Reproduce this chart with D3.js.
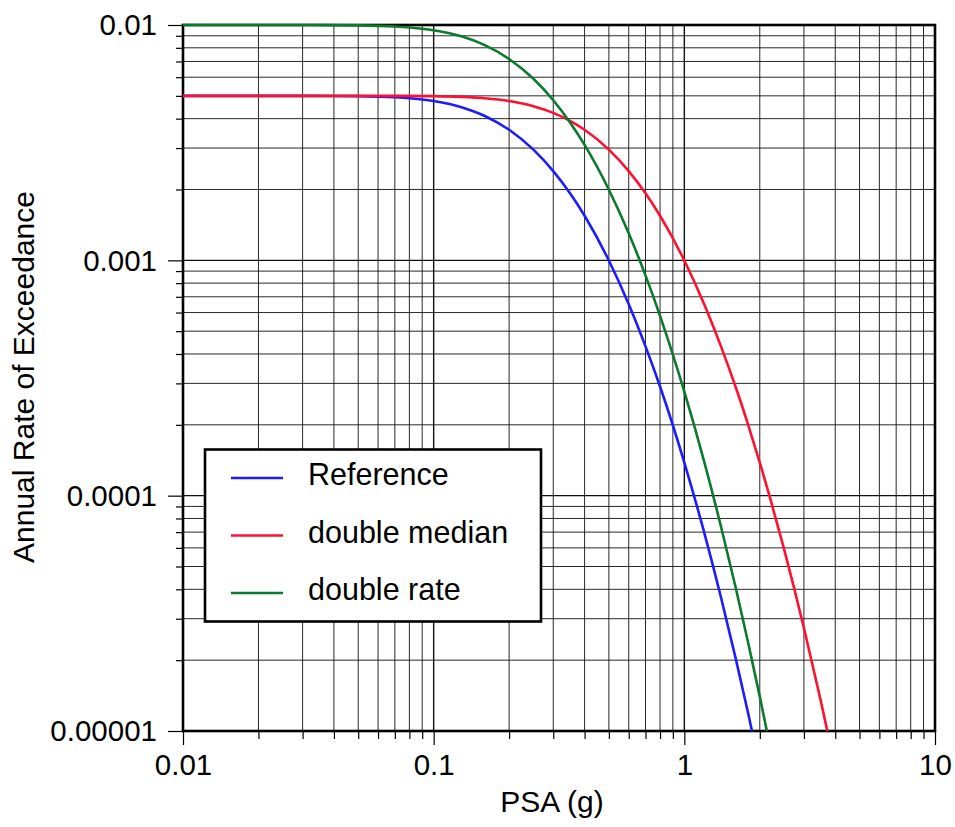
<!DOCTYPE html>
<html>
<head>
<meta charset="utf-8">
<script src="https://cdn.jsdelivr.net/npm/d3@7"></script>
<style>
  html, body { margin: 0; padding: 0; background: #fff; }
  svg { display: block; font-family: "Liberation Sans", Arial, Helvetica, sans-serif; }
</style>
</head>
<body>
<svg id="chart" width="955" height="827"></svg>
<script>
// Hazard curves: annual rate of exceeding a given PSA level
const psa = [0.01, 0.02, 0.03, 0.05, 0.07, 0.1, 0.13, 0.16, 0.2, 0.25, 0.3, 0.35, 0.4,
             0.5, 0.6, 0.7, 0.8, 1.0, 1.2, 1.4, 1.6, 1.8, 2.0, 2.2, 2.5, 3.0, 3.5, 4.0];

const referenceRate = [0.005, 0.005, 0.004999, 0.004984, 0.00493, 0.004752, 0.004464, 0.004107,
  0.003587, 0.002954, 0.002395, 0.001927, 0.001547, 0.000998, 0.000651, 0.000431, 0.000291,
  0.0001383, 0.0000698, 0.000037, 0.0000205, 0.0000118, 0.000007, 0.00000427, null, null, null, null];

const doubleMedianRate = [0.005, 0.005, 0.005, 0.0049996, 0.004997, 0.004984, 0.004948, 0.004885,
  0.004752, 0.004518, 0.004231, 0.003914, 0.003587, 0.002954, 0.002395, 0.001927, 0.001547,
  0.000998, 0.000651, 0.000431, 0.000291, 0.000199, 0.0001383, 0.0000976, 0.0000593, 0.0000274,
  0.00001348, 0.000007];

const doubleRate = [0.01, 0.01, 0.009998, 0.009967, 0.00986, 0.009503, 0.008929, 0.008214,
  0.007174, 0.005908, 0.004791, 0.003854, 0.003093, 0.001995, 0.001302, 0.000863, 0.000581,
  0.0002766, 0.0001396, 0.000074, 0.000041, 0.00002355, 0.000014, 0.00000854, 0.00000427,
  null, null, null];

const seriesNames = ["Reference", "double median", "double rate"];
const seriesColors = ["#1c1cff", "#ff1030", "#0b7a2c"];
const seriesValues = [referenceRate, doubleMedianRate, doubleRate];

const xTickLabels = ["0.01", "0.1", "1", "10"];
const xMajor = [0.01, 0.1, 1, 10];
const yTickLabels = ["0.01", "0.001", "0.0001", "0.00001"];
const yMajor = [0.01, 0.001, 0.0001, 0.00001];

const xTitle = "PSA (g)";
const yTitle = "Annual Rate of Exceedance";

// ---- layout ----
const plotLeft = 183, plotTop = 25, plotRight = 935, plotBottom = 731;

const svg = d3.select("#chart");
const x = d3.scaleLog().domain([0.01, 10]).range([plotLeft, plotRight]);
const y = d3.scaleLog().domain([0.00001, 0.01]).range([plotBottom, plotTop]);

// minor values 2..9 within each decade
function minors(lo, hi) {
  const out = [];
  for (let e = lo; e < hi; e++) for (let d = 2; d <= 9; d++) out.push(d * Math.pow(10, e));
  return out;
}
const xMinor = minors(-2, 1);
const yMinor = minors(-5, -2);

// ---- grid ----
const grid = svg.append("g").attr("stroke", "#111").attr("fill", "none");
grid.selectAll("line.vx").data(xMinor).enter().append("line")
  .attr("x1", d => x(d)).attr("x2", d => x(d)).attr("y1", plotTop).attr("y2", plotBottom)
  .attr("stroke-width", 0.9);
grid.selectAll("line.hy").data(yMinor).enter().append("line")
  .attr("y1", d => y(d)).attr("y2", d => y(d)).attr("x1", plotLeft).attr("x2", plotRight)
  .attr("stroke-width", 0.9);
grid.selectAll("line.vxm").data(xMajor).enter().append("line")
  .attr("x1", d => x(d)).attr("x2", d => x(d)).attr("y1", plotTop).attr("y2", plotBottom)
  .attr("stroke-width", 1.4);
grid.selectAll("line.hym").data(yMajor).enter().append("line")
  .attr("y1", d => y(d)).attr("y2", d => y(d)).attr("x1", plotLeft).attr("x2", plotRight)
  .attr("stroke-width", 1.4);

// ---- axes ----
const axisStyle = g => {
  g.select(".domain").remove();
  g.selectAll(".tick line").attr("stroke", "#000").attr("stroke-width", 1.2);
};

svg.append("g").attr("transform", `translate(0,${plotBottom})`)
  .call(d3.axisBottom(x).tickValues(xMinor).tickSize(8).tickFormat(""))
  .call(axisStyle);
svg.append("g").attr("transform", `translate(0,${plotBottom})`)
  .call(d3.axisBottom(x).tickValues(xMajor).tickSize(14)
        .tickFormat((d, i) => xTickLabels[i]).tickPadding(10))
  .call(axisStyle)
  .call(g => g.selectAll(".tick text")
    .attr("font-size", 29.5).attr("fill", "#000")
    .attr("font-family", "'Liberation Sans', Arial, sans-serif")
    .attr("y", 44).attr("dy", 0));

svg.append("g").attr("transform", `translate(${plotLeft},0)`)
  .call(d3.axisLeft(y).tickValues(yMinor).tickSize(7).tickFormat(""))
  .call(axisStyle);
svg.append("g").attr("transform", `translate(${plotLeft},0)`)
  .call(d3.axisLeft(y).tickValues(yMajor).tickSize(15)
        .tickFormat((d, i) => yTickLabels[i]).tickPadding(11))
  .call(axisStyle)
  .call(g => g.selectAll(".tick text")
    .attr("font-size", 29.5).attr("fill", "#000")
    .attr("font-family", "'Liberation Sans', Arial, sans-serif")
    .attr("dy", "0.33em"));

// ---- frame ----
svg.append("rect")
  .attr("x", plotLeft).attr("y", plotTop)
  .attr("width", plotRight - plotLeft).attr("height", plotBottom - plotTop)
  .attr("fill", "none").attr("stroke", "#000").attr("stroke-width", 2.6);

// ---- curves ----
svg.append("clipPath").attr("id", "plot-clip")
  .append("rect").attr("x", plotLeft).attr("y", plotTop - 2)
  .attr("width", plotRight - plotLeft).attr("height", plotBottom - plotTop + 2);

const line = d3.line()
  .defined(d => d[1] != null)
  .x(d => x(d[0]))
  .y(d => y(d[1]))
  .curve(d3.curveMonotoneX);

const curves = svg.append("g").attr("clip-path", "url(#plot-clip)");
seriesValues.forEach((vals, i) => {
  curves.append("path")
    .datum(psa.map((p, j) => [p, vals[j]]))
    .attr("d", line)
    .attr("fill", "none")
    .attr("stroke", seriesColors[i])
    .attr("stroke-width", 2.6);
});

// ---- legend ----
const legend = svg.append("g");
legend.append("rect")
  .attr("x", 205).attr("y", 449.5).attr("width", 336).attr("height", 172)
  .attr("fill", "#fff").attr("stroke", "#000").attr("stroke-width", 2.6);
seriesNames.forEach((name, i) => {
  const cy = 478 + i * 57.5;
  legend.append("line")
    .attr("x1", 231).attr("x2", 283).attr("y1", cy).attr("y2", cy)
    .attr("stroke", seriesColors[i]).attr("stroke-width", 2.6);
  legend.append("text")
    .attr("x", 308).attr("y", cy + 7)
    .attr("font-size", 30.5).attr("fill", "#000")
    .text(name);
});

// ---- titles ----
svg.append("text")
  .attr("x", 552).attr("y", 812)
  .attr("text-anchor", "middle").attr("font-size", 30).attr("fill", "#000")
  .text(xTitle);
svg.append("text")
  .attr("transform", "translate(34,377) rotate(-90)")
  .attr("text-anchor", "middle").attr("font-size", 30).attr("fill", "#000")
  .text(yTitle);
</script>
</body>
</html>
